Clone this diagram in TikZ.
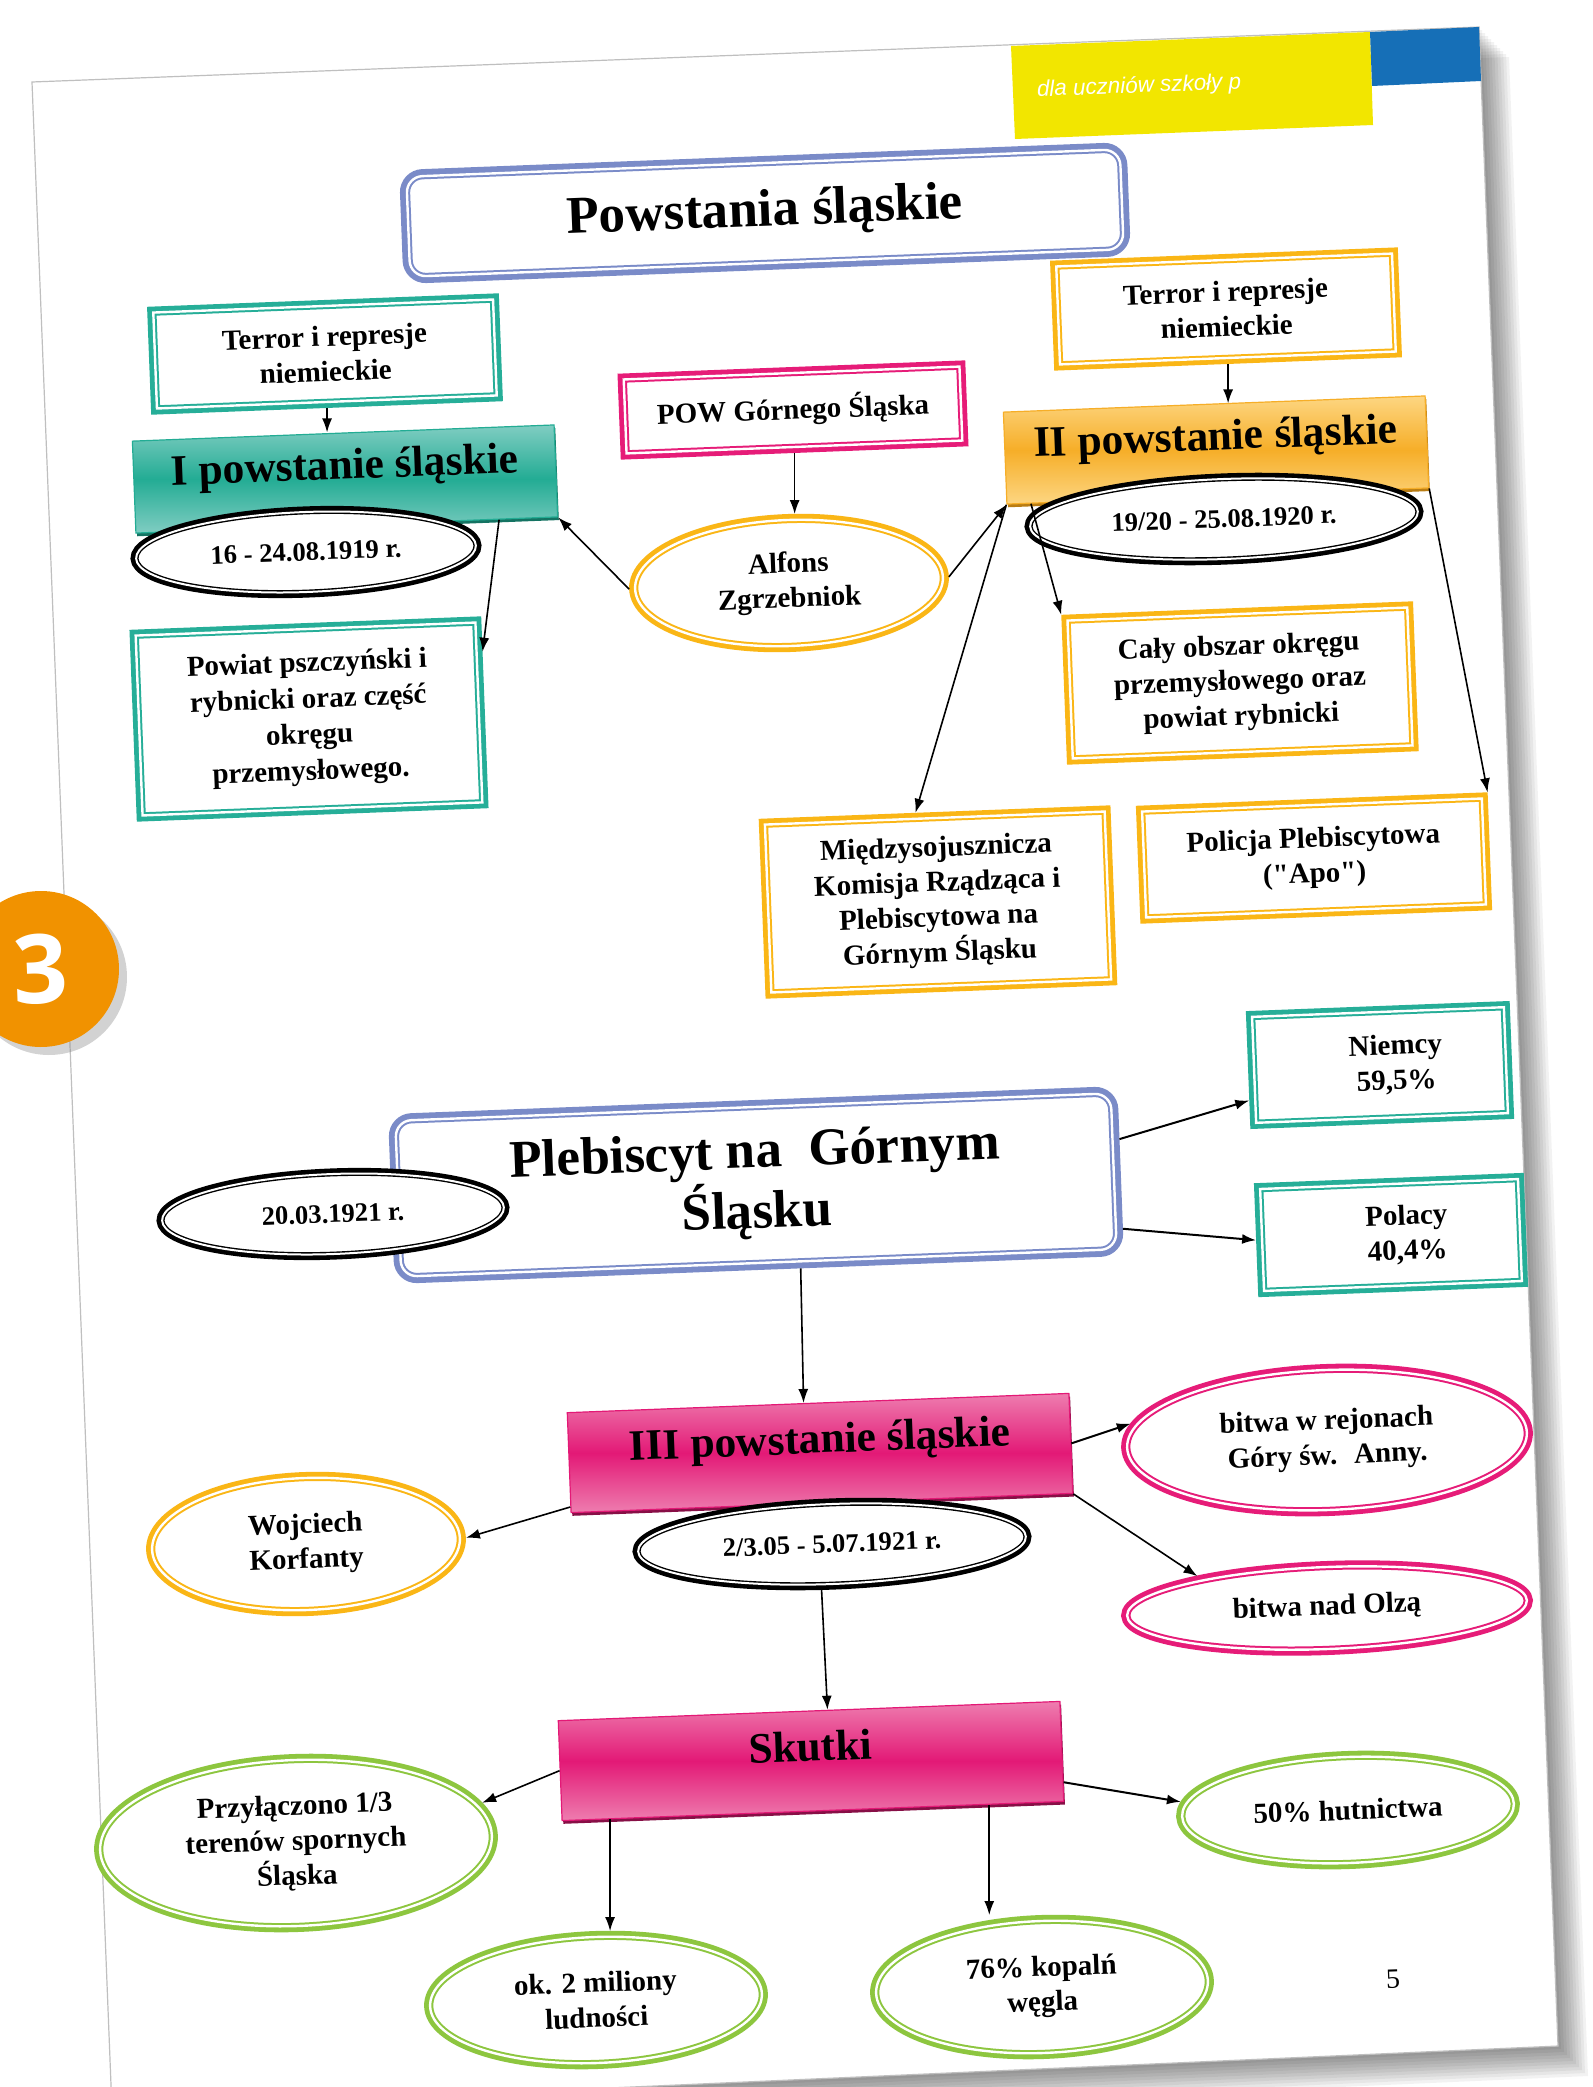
\documentclass[tikz,border=0pt]{standalone}
\usepackage{fontspec}
\setmainfont{Liberation Serif}
\newfontfamily\bannerfont{Liberation Sans}
\newfontfamily\numfont{Open Sans}
\usetikzlibrary{positioning,shapes.geometric,shadows,arrows.meta}

\definecolor{tealbox}{RGB}{38,174,152}
\definecolor{orangebox}{RGB}{250,182,22}
\definecolor{pinkbox}{RGB}{230,28,120}
\definecolor{greenbox}{RGB}{141,198,63}
\definecolor{bluebox}{RGB}{122,139,200}
\definecolor{tealL}{RGB}{128,205,194}
\definecolor{tealD}{RGB}{35,172,148}
\definecolor{tealX}{RGB}{20,115,98}
\definecolor{orangeL}{RGB}{253,214,130}
\definecolor{orangeD}{RGB}{246,174,40}
\definecolor{orangeX}{RGB}{185,125,20}
\definecolor{pinkL}{RGB}{238,125,175}
\definecolor{pinkD}{RGB}{227,25,118}
\definecolor{pinkX}{RGB}{135,15,70}
\definecolor{yellowband}{RGB}{242,230,0}
\definecolor{blueband}{RGB}{22,111,183}
\definecolor{orangenum}{RGB}{241,146,0}

\newcommand\lblfont{\bfseries\fontsize{14.5}{17.5}\selectfont}
\newcommand\dtfont{\bfseries\fontsize{13.3}{16}\selectfont}
\newcommand\hdfont{\bfseries\fontsize{21.7}{26}\selectfont}
\newcommand\ttlfont{\bfseries\fontsize{26.5}{30}\selectfont}

\tikzset{
  framebox/.style={rectangle, fill=white, draw=#1, line width=6pt,
    postaction={fill=white, draw=#1, double=white, line width=1pt, double distance=1.2pt},
    align=center, inner sep=0pt, font=\lblfont},
  frameoval/.style={ellipse, fill=white, draw=#1, line width=6pt,
    postaction={fill=white, draw=#1, double=white, line width=1pt, double distance=1.2pt},
    align=center, inner sep=0pt, font=\lblfont},
  datum/.style={ellipse, fill=white, draw=black, line width=5.6pt,
    postaction={fill=white, draw=black, double=white, line width=0.7pt, double distance=1pt},
    drop shadow={shadow xshift=-0.6pt, shadow yshift=-2pt, fill=black, opacity=1},
    inner sep=0pt, font=\dtfont},
  headbox/.style n args={3}{rectangle, top color=#1, bottom color=#1, middle color=#2,
    draw=#2, line width=0.6pt, inner sep=0pt, text height=15pt, text depth=15pt,
    drop shadow={shadow xshift=0.6pt, shadow yshift=-1.6pt, fill=#3, opacity=1},
    font=\hdfont},
}

\begin{document}
\begin{tikzpicture}[x=0.5pt, y=-0.5pt, >={Latex[length=7pt,width=5pt]},
  every node/.append style={rotate=2.2}]
\useasboundingbox (0,0) rectangle (1593,2087);

% page
\foreach \d in {3,6,...,30}
  \fill[black, opacity=0.05] (32+\d,82+\d) -- (1479+\d,27+\d) -- (1558+\d,2046+\d) -- (112+\d,2110+\d) -- cycle;
\filldraw[fill=white, draw=black!25, line width=0.6pt] (32,82) -- (1479,27) -- (1558,2046) -- (112,2110) -- cycle;
\fill[yellowband] (1011,46) -- (1370,32) -- (1373,125) -- (1015,139) -- cycle;
\fill[blueband] (1370,32) -- (1479,27) -- (1481,81) -- (1372,86) -- cycle;
\node[font=\bannerfont\itshape\fontsize{11.2}{13}\selectfont, text=white, anchor=west] (band) at (1030,91) {dla uczniów szkoły p};

% top
\node[framebox=bluebox, rounded corners=8pt, line width=7pt, minimum width=357pt, minimum height=50pt, font=\ttlfont] (title) at (765,213) {Powstania śląskie};

% I powstanie
\node[framebox=tealbox, minimum width=170pt, minimum height=48pt] (terrL) at (325,354) {Terror i represje\\niemieckie};
\node[headbox={tealL}{tealD}{tealX}, minimum width=211pt, minimum height=46pt] (pow1) at (345,479) {I powstanie śląskie};
\node[datum, minimum width=170pt, minimum height=40pt] (date1) at (306,552) {16 - 24.08.1919 r.};
\node[framebox=tealbox, minimum width=170pt, minimum height=90pt, font=\bfseries\fontsize{14.5}{18}\selectfont] (powiat) at (309,719) {Powiat pszczyński i\\rybnicki oraz część\\okręgu\\przemysłowego.};

% POW
\node[framebox=pinkbox, minimum width=168pt, minimum height=37pt] (powg) at (793,410) {POW Górnego Śląska};
\node[frameoval=orangebox, minimum width=154pt, minimum height=63pt] (alfons) at (789,583) {Alfons\\Zgrzebniok};

% II powstanie
\node[framebox=orangebox, minimum width=168pt, minimum height=49pt] (terrR) at (1226,309) {Terror i represje\\niemieckie};
\node[headbox={orangeL}{orangeD}{orangeX}, minimum width=211pt, minimum height=46pt] (pow2) at (1216,450) {II powstanie śląskie};
\node[datum, minimum width=194pt, minimum height=40pt] (date2) at (1224,519) {19/20 - 25.08.1920 r.};
\node[framebox=orangebox, minimum width=170pt, minimum height=69pt] (caly) at (1240,683) {Cały obszar okręgu\\przemysłowego oraz\\powiat rybnicki};
\node[framebox=orangebox, minimum width=170pt, minimum height=84pt] (mkr) at (938,902) {Międzysojusznicza\\Komisja Rządząca i\\Plebiscytowa na\\Górnym Śląsku};
\node[framebox=orangebox, minimum width=170pt, minimum height=53pt] (apo) at (1314,858) {Policja Plebiscytowa\\(\textquotedbl Apo\textquotedbl)};

\node[circle, fill=orangenum, minimum size=78pt, text=white, font=\numfont\bfseries\fontsize{48}{50}\selectfont,
  drop shadow={shadow xshift=4pt, shadow yshift=-4pt, opacity=0.35}] (num) at (41,969) {3};

% plebiscyt
\node[framebox=bluebox, rounded corners=8pt, line width=7pt, minimum width=358pt, minimum height=78pt, font=\bfseries\fontsize{26.5}{30}\selectfont] (pleb) at (756,1185) {Plebiscyt na~ Górnym\\Śląsku};
\node[datum, minimum width=171pt, minimum height=40pt] (date3) at (333,1214) {20.03.1921 r.};
\node[framebox=tealbox, minimum width=126pt, minimum height=53pt] (niemcy) at (1380,1065) {\hspace*{16pt}Niemcy\\\hspace*{16pt}59,5\%};
\node[framebox=tealbox, minimum width=129pt, minimum height=51pt] (polacy) at (1391,1235) {\hspace*{16pt}Polacy\\\hspace*{16pt}40,4\%};

% III powstanie
\node[headbox={pinkL}{pinkD}{pinkX}, minimum width=251pt, minimum height=50pt] (pow3) at (820,1453) {III powstanie śląskie};
\node[datum, minimum width=194pt, minimum height=40pt] (date4) at (832,1544) {2/3.05 - 5.07.1921 r.};
\node[frameoval=orangebox, minimum width=154pt, minimum height=66pt] (korfanty) at (306,1544) {Wojciech\\Korfanty};
\node[frameoval=pinkbox, minimum width=200pt, minimum height=70pt] (anny) at (1327,1440) {bitwa w rejonach\\Góry św.~ Anny.};
\node[frameoval=pinkbox, minimum width=200pt, minimum height=41pt] (olza) at (1327,1608) {bitwa nad Olzą};

% skutki
\node[headbox={pinkL}{pinkD}{pinkX}, minimum width=251pt, minimum height=50pt] (skutki) at (811,1761) {Skutki};
\node[frameoval=greenbox, minimum width=196pt, minimum height=83pt] (przyl) at (296,1843) {Przyłączono 1/3\\terenów spornych\\Śląska};
\node[frameoval=greenbox, minimum width=166pt, minimum height=53pt] (hutn) at (1348,1810) {50\% hutnictwa};
\node[frameoval=greenbox, minimum width=166pt, minimum height=63pt] (ludn) at (596,2000) {ok. 2 miliony\\ludności};
\node[frameoval=greenbox, minimum width=166pt, minimum height=66pt] (kopal) at (1042,1987) {76\% kopalń\\węgla};
\node[font=\fontsize{14}{16}\selectfont] (pnum) at (1393,1979) {5};

% arrows
\draw[->, line width=0.8pt] (terrL.south) -- (terrL.south |- pow1.north);
\draw[->, line width=0.8pt] (terrR.south) -- (terrR.south |- pow2.north);
\draw[->, line width=0.8pt] (powg.south) -- (powg.south |- alfons.north);
\draw[->, line width=0.8pt] (alfons.west) -- (pow1.south east);
\draw[->, line width=0.8pt] (alfons.east) -- (pow2.south west);
\draw[->, line width=0.8pt] (pow1.-17) -- (powiat.19);
\draw[->, line width=0.8pt] (pow2.-166) -- (caly.north west);
\draw[->, line width=0.8pt] (pow2.south west) -- (mkr.102);
\draw[->, line width=0.8pt] (pow2.south east) -- (apo.north east);
\draw[->, line width=1pt] (pleb.5) -- (niemcy.193);
\draw[->, line width=1pt] (pleb.-9) -- (polacy.west);
\draw[->, line width=0.8pt] (pleb.-64) -- (pow3.106);
\draw[->, line width=1pt] (pow3.east) -- (anny.173);
\draw[->, line width=0.8pt] (pow3.south east) -- (olza.164);
\draw[->, line width=0.8pt] (pow3.-170) -- (korfanty.east);
\draw[->, line width=0.8pt] (date4.-105) -- (skutki.70);
\draw[->, line width=0.8pt] (skutki.west) -- (przyl.10);
\draw[->, line width=1pt] (skutki.-7) -- (hutn.175);
\draw[->, line width=0.8pt] (skutki.-166) -- (skutki.-166 |- ludn.north);
\draw[->, line width=0.8pt] (skutki.-16) -- (skutki.-16 |- kopal.north);
\end{tikzpicture}
\end{document}
